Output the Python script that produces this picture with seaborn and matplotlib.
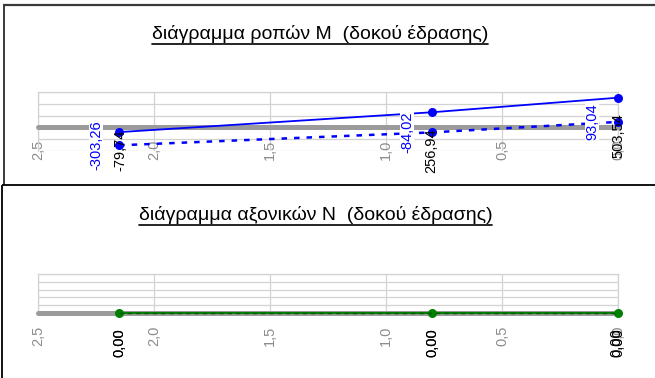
import matplotlib
matplotlib.use("Agg")
import matplotlib.pyplot as plt
from matplotlib.lines import Line2D
from matplotlib.ticker import FixedLocator, FixedFormatter
import pandas as pd
import seaborn as sns

# Beam stations (m) and section forces
stations = [2.15, 0.80, 0.00]
moment_max = [-79.74, 256.94, 503.54]
moment_min = [-303.26, -84.02, 93.04]
axial_max = [0.00, 0.00, 0.00]
axial_min = [0.00, 0.00, 0.00]

x_ticks = [2.5, 2.0, 1.5, 1.0, 0.5, 0.0]
x_tick_labels = ["2,5", "2,0", "1,5", "1,0", "0,5", "0,0"]
m_grid = [-400, -200, 0, 200, 400, 600]
n_grid = [0.0, 0.2, 0.4, 0.6, 0.8, 1.0]

title_m = "διάγραμμα ροπών M  (δοκού έδρασης)"
title_n = "διάγραμμα αξονικών N  (δοκού έδρασης)"

BLUE = "#0000ff"
GREEN = "#008000"
DARK_GREEN = "#005a00"
GRID = "#d2d2d2"
AXIS_GREY = "#9b9b9b"
TICK_TEXT = "#8c8c8c"

sns.set_style("white")
plt.rcParams["font.family"] = ["Liberation Sans", "DejaVu Sans"]
plt.rcParams["text.color"] = "black"

W, H = 655, 378
fig = plt.figure(figsize=(W / 100, H / 100), dpi=100)


def px_axes(left, top, right, bottom):
    return fig.add_axes([left / W, 1 - bottom / H, (right - left) / W, (bottom - top) / H])


def fmt(v):
    return f"{v:.2f}".replace(".", ",")


def style_axes(ax, yticks):
    ax.set_xlim(x_ticks[0], x_ticks[-1])
    ax.set_ylim(yticks[0], yticks[-1])
    ax.xaxis.set_major_locator(FixedLocator(x_ticks))
    ax.xaxis.set_major_formatter(FixedFormatter(x_tick_labels))
    ax.set_yticks(yticks)
    ax.set_yticklabels([])
    ax.tick_params(axis="y", length=0)
    ax.grid(True, color=GRID, lw=0.9)
    ax.set_axisbelow(True)
    for s in ("top", "left", "right"):
        ax.spines[s].set_color(GRID)
        ax.spines[s].set_linewidth(0.9)
    sp = ax.spines["bottom"]
    sp.set_position(("data", 0))
    sp.set_color(AXIS_GREY)
    sp.set_linewidth(3.6)
    sp.set_capstyle("round")
    sp.set_zorder(2.5)
    ax.tick_params(axis="x", direction="out", length=4.5, width=2.2,
                   color=AXIS_GREY, pad=4.5, labelsize=10.5,
                   labelcolor=TICK_TEXT, labelrotation=90)
    ax.set_xlabel("")
    ax.set_ylabel("")


def value_labels(ax, xs, ys, color, dx_px, dy_px, boxed):
    for x, y, dx, dy in zip(xs, ys, dx_px, dy_px):
        kw = {}
        if boxed:
            kw["bbox"] = dict(boxstyle="square,pad=0.0", fc="white", ec="none")
        ax.annotate(fmt(y), (x, y), xytext=(dx * 0.72, dy * 0.72),
                    textcoords="offset points", rotation=90,
                    ha="center", va="center", color=color, fontsize=10.5,
                    zorder=6, annotation_clip=False, **kw)


# ---- bending moment diagram ----
ax_m = px_axes(38, 92, 618, 151)
df_m = pd.DataFrame({"x": stations, "Mmax": moment_max, "Mmin": moment_min})
sns.lineplot(data=df_m, x="x", y="Mmax", ax=ax_m, color=BLUE, lw=1.3,
             marker="o", markersize=6.5, markeredgewidth=0, zorder=3,
             clip_on=False, sort=False)
sns.lineplot(data=df_m, x="x", y="Mmin", ax=ax_m, color=BLUE, lw=1.8,
             linestyle=(0, (2.2, 2.8)), marker="o", markersize=6.5,
             markeredgewidth=0, zorder=3, clip_on=False, sort=False)
style_axes(ax_m, m_grid)
value_labels(ax_m, stations, moment_max, "black", [1, -1, 0], [-18.5, -38.5, -38], False)
value_labels(ax_m, stations, moment_min, BLUE, [-23, -25, -26], [0, 0, 0], True)

# ---- axial force diagram ----
ax_n = px_axes(38, 274, 618, 313)
df_n = pd.DataFrame({"x": stations, "Nmax": axial_max, "Nmin": axial_min})
sns.lineplot(data=df_n, x="x", y="Nmax", ax=ax_n, color=GREEN, lw=1.5,
             marker="o", markersize=6.5, markeredgewidth=0, zorder=3,
             clip_on=False, sort=False)
sns.lineplot(data=df_n, x="x", y="Nmin", ax=ax_n, color=DARK_GREEN, lw=1.0,
             linestyle=(0, (3, 3)), zorder=3.1, clip_on=False, sort=False)
style_axes(ax_n, n_grid)
value_labels(ax_n, stations, axial_max, "black", [0, 0, 0], [-30, -30, -30], False)
value_labels(ax_n, stations, axial_min, "black", [0, 0, -1.5], [-30, -30, -30], False)

# ---- titles with underline ----
t_m = fig.text(320 / W, 1 - 39 / H, title_m, ha="center", va="baseline",
               fontsize=14, color="black")
t_n = fig.text(315.5 / W, 1 - 219.5 / H, title_n, ha="center", va="baseline",
               fontsize=14, color="black")
fig.canvas.draw()
renderer = fig.canvas.get_renderer()
for t in (t_m, t_n):
    bb = t.get_window_extent(renderer)
    y = bb.y0 - 1.0
    fig.add_artist(Line2D([bb.x0 / W, bb.x1 / W], [y / H, y / H],
                          transform=fig.transFigure, color="black", lw=1.2))


# ---- chart frames ----
def frame_line(x0, y0, x1, y1, color, lw):
    fig.add_artist(Line2D([x0 / W, x1 / W], [1 - y0 / H, 1 - y1 / H],
                          transform=fig.transFigure, color=color, lw=lw,
                          solid_capstyle="butt"))


frame_line(3, 4.5, W, 4.5, "#3a3a3a", 1.6)
frame_line(3.5, 4.5, 3.5, 185, "#3a3a3a", 1.4)
frame_line(2, 185.5, W, 185.5, "black", 1.3)
frame_line(2, 185.5, 2, H, "black", 1.3)

fig.savefig("out.png", dpi=100)
